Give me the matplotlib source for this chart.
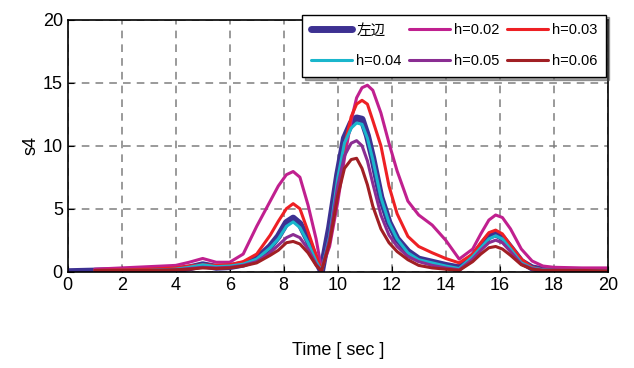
import matplotlib
matplotlib.use("Agg")
import matplotlib.pyplot as plt
import numpy as np

# time grid [sec] shared by every series
t = [0, 1, 2, 3, 4, 4.5, 5, 5.5, 6, 6.5, 7, 7.5, 7.8, 8.1, 8.35, 8.6, 8.9, 9.2,
     9.4, 9.7, 10.0, 10.25, 10.5, 10.7, 10.9, 11.1, 11.3, 11.6, 11.9, 12.2,
     12.6, 13, 13.5, 14, 14.5, 15, 15.3, 15.6, 15.85, 16.1, 16.4, 16.8, 17.2,
     17.6, 18, 19, 20]

nan = np.nan
lhs = [0, 0.05, 0.1, 0.1, 0.15, 0.3, 0.55, 0.35, 0.4, 0.6, 1.0, 2.0, 2.8, 3.9,
       4.25, 3.8, 2.5, 0.9, 0.05, 3.5, 7.7, 10.6, 11.8, 12.2, 12.1, 10.8, 9.0,
       5.9, 3.9, 2.6, 1.6, 1.0, 0.75, 0.5, 0.3, 1.2, 2.0, 2.8, 3.0, 2.7, 1.9,
       0.8, 0.3, 0.15, 0.1, 0.1, 0.05]
h002 = [nan, 0.2, 0.3, 0.4, 0.5, 0.75, 1.05, 0.75, 0.75, 1.4, 3.6, 5.6, 6.8, 7.7,
        7.95, 7.5, 5.3, 2.6, 0.2, 2.0, 5.5, 9.0, 12.0, 13.8, 14.6, 14.8, 14.4,
        12.6, 10.2, 8.0, 5.6, 4.5, 3.7, 2.5, 1.0, 1.8, 3.0, 4.1, 4.5, 4.3, 3.4,
        1.8, 0.85, 0.45, 0.35, 0.3, 0.3]
h003 = [nan, 0.1, 0.15, 0.2, 0.3, 0.45, 0.55, 0.5, 0.55, 0.8, 1.4, 2.9, 4.0, 5.0,
        5.4, 5.0, 3.2, 1.3, 0.1, 2.5, 7.0, 10.0, 12.3, 13.3, 13.6, 13.3, 12.0,
        10.0, 6.8, 4.6, 2.8, 2.0, 1.5, 1.05, 0.7, 1.4, 2.3, 3.1, 3.3, 3.0, 2.1,
        1.0, 0.35, 0.15, 0.1, 0.1, 0.1]
h004 = [nan, 0.05, 0.1, 0.1, 0.2, 0.35, 0.55, 0.4, 0.45, 0.6, 1.0, 1.9, 2.6, 3.6,
        3.95, 3.5, 2.3, 0.8, 0.05, 2.8, 7.4, 10.2, 11.4, 11.8, 11.7, 10.6, 8.9,
        5.9, 3.9, 2.6, 1.5, 0.95, 0.7, 0.45, 0.25, 1.2, 1.9, 2.6, 2.85, 2.6, 1.8,
        0.7, 0.3, 0.15, 0.1, 0.1, 0.05]
h005 = [nan, 0.1, 0.1, 0.1, 0.15, 0.25, 0.35, 0.3, 0.35, 0.5, 0.8, 1.5, 2.1, 2.7,
        2.95, 2.7, 1.8, 0.6, 0.05, 2.6, 6.8, 9.2, 10.2, 10.4, 10.0, 8.8, 7.0,
        4.5, 2.9, 2.0, 1.2, 0.8, 0.5, 0.3, 0.15, 1.0, 1.7, 2.3, 2.5, 2.3, 1.6,
        0.6, 0.25, 0.12, 0.1, 0.1, 0.05]
h006 = [nan, 0.1, 0.1, 0.1, 0.15, 0.2, 0.3, 0.25, 0.3, 0.45, 0.7, 1.3, 1.7, 2.3,
        2.4, 2.2, 1.5, 0.5, 0.05, 2.3, 6.0, 8.2, 8.9, 9.0, 8.2, 6.9, 5.2,
        3.4, 2.3, 1.6, 0.95, 0.5, 0.3, 0.2, 0.1, 0.8, 1.4, 1.9, 2.0, 1.8, 1.3,
        0.55, 0.2, 0.1, 0.1, 0.1, 0.05]

labels = ["左辺", "h=0.02", "h=0.03", "h=0.04", "h=0.05", "h=0.06"]
colors = ["#3d3192", "#c0208f", "#ee2024", "#1ab6cc", "#8a2d92", "#a11f24"]
widths = [5.0, 2.2, 2.2, 2.2, 2.2, 2.2]

plt.rcParams["font.family"] = ["Liberation Sans Narrow", "Liberation Sans", "Noto Sans CJK JP"]

fig = plt.figure(figsize=(6.34, 3.68), dpi=100)
ax = fig.add_axes([0.1068, 0.2617, 0.8517, 0.6848])

handles = []
for y, lab, col, lw in zip([lhs, h002, h003, h004, h005, h006], labels, colors, widths):
    (ln,) = ax.plot(t, y, color=col, lw=lw, label=lab, solid_capstyle="round",
                    solid_joinstyle="round")
    handles.append(ln)

ax.set_xlim(0, 20)
ax.set_ylim(0, 20)
ax.set_xticks(np.arange(0, 21, 2))
ax.set_yticks(np.arange(0, 21, 5))
ax.grid(True, color="#7f7f7f", linestyle=(0, (5, 4)), linewidth=1.1)
ax.tick_params(direction="in", labelsize=13, length=4)
for s in ax.spines.values():
    s.set_linewidth(1.2)
ax.set_xlabel("Time [ sec ]", fontsize=13, labelpad=35)
ax.set_ylabel("s4", fontsize=13, labelpad=2)

# legend fills row by row in the reference
order = [0, 3, 1, 4, 2, 5]
leg = ax.legend([handles[i] for i in order], [labels[i] for i in order],
                ncol=3, fontsize=10.5, loc="upper right",
                bbox_to_anchor=(0.956, 0.96), bbox_transform=fig.transFigure,
                fancybox=False, shadow=True, edgecolor="black",
                handlelength=2.8, columnspacing=0.5, handletextpad=0.3,
                borderpad=0.6, labelspacing=1.15, borderaxespad=0)
leg.get_frame().set_linewidth(1.0)

fig.savefig("out.png", dpi=100)
